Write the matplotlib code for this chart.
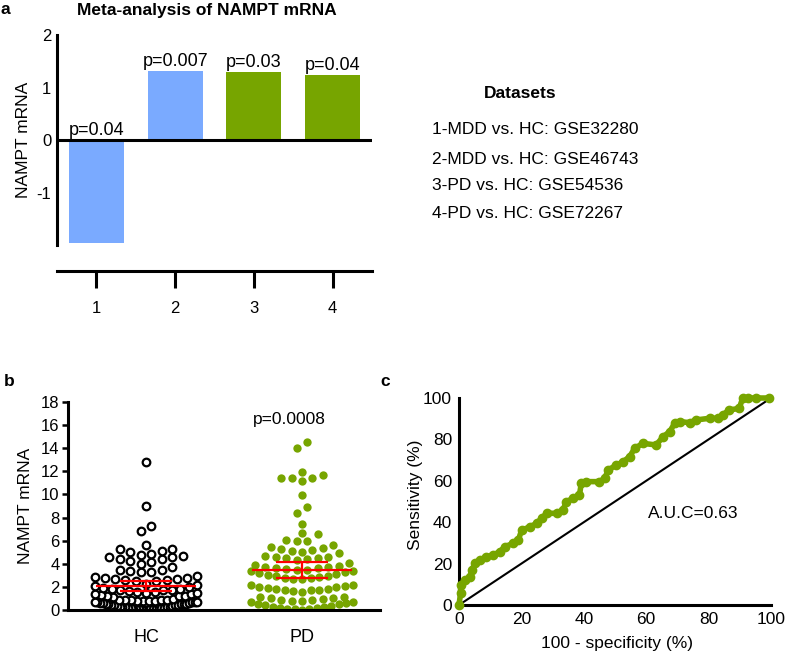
import numpy as np
import matplotlib
matplotlib.use("Agg")
import matplotlib.pyplot as plt

plt.rcParams['font.family'] = ['Liberation Sans', 'DejaVu Sans']
plt.rcParams['axes.unicode_minus'] = False

# panel a data
datasets = [1, 2, 3, 4]
nampt_fc = [-1.96, 1.31, 1.29, 1.24]
p_vals = ['p=0.04', 'p=0.007', 'p=0.03', 'p=0.04']
dataset_names = ['1-MDD vs. HC: GSE32280', '2-MDD vs. HC: GSE46743',
                 '3-PD vs. HC: GSE54536', '4-PD vs. HC: GSE72267']

# panel b data
hc_values = [12.8, 9.0, 7.25, 6.85,
             5.6, 5.3, 5.25, 5.1, 5.05, 4.85, 4.8, 4.65, 4.55, 4.55,
             4.45, 4.4, 4.25, 4.15, 4.0, 3.75, 3.5, 3.45, 3.4,
             3.3, 3.25, 2.95, 2.85, 2.8, 2.75, 2.7, 2.65, 2.6, 2.6, 2.55, 2.5,
             2.25, 2.2, 2.05, 1.95, 1.9, 1.85, 1.8, 1.75, 1.7, 1.7, 1.65, 1.6,
             1.55, 1.5, 1.45, 1.4, 1.35, 1.3, 1.25, 1.2, 1.2, 1.15,
             0.95, 0.9, 0.9, 0.85, 0.85, 0.85, 0.8, 0.8, 0.75, 0.75, 0.7, 0.7, 0.7,
             0.65, 0.65, 0.6, 0.6, 0.6, 0.55, 0.55, 0.5, 0.5, 0.5, 0.45, 0.45,
             0.4, 0.4, 0.35, 0.35, 0.3, 0.3, 0.3, 0.25, 0.25, 0.2, 0.2, 0.2,
             0.15, 0.15, 0.1, 0.1, 0.1, 0.05, 0.05, 0.05, 0.02, 0.0, 0.0]
pd_values = [14.5, 14.05,
             11.95, 11.7, 11.45, 11.4, 11.4, 11.15,
             9.95, 8.95, 8.4, 7.45,
             6.7, 6.55, 6.05, 6.0, 5.95,
             5.6, 5.45, 5.4, 5.3, 5.15, 5.1, 5.05, 4.9,
             4.65, 4.6, 4.55, 4.5, 4.5, 4.4, 4.3, 4.05,
             3.9, 3.85, 3.75, 3.7, 3.65, 3.6, 3.55, 3.5, 3.45, 3.4,
             3.35, 3.3, 3.2, 3.1, 3.0, 2.95, 2.9, 2.85, 2.8, 2.75, 2.7, 2.7,
             2.2, 2.15, 2.1, 2.0, 1.95, 1.9, 1.85, 1.8, 1.75, 1.7, 1.7, 1.65, 1.6,
             1.15, 1.1, 1.05, 1.0, 0.95, 0.9, 0.85, 0.8, 0.75, 0.7, 0.65, 0.6, 0.55, 0.5,
             0.4, 0.35, 0.3, 0.25, 0.2, 0.15, 0.1, 0.05, 0.05, 0.0]
groups = ['HC', 'PD']
group_mean = [2.07, 3.46]
group_err = [0.42, 0.66]

# panel c data (ROC)
roc_fpr = [0, 0.5, 0.5, 1.9, 3.5, 4.1, 5.1, 6.7, 8.8, 11, 13.1, 14.7, 17.4, 19, 20.1,
           22.8, 24.9, 26.5, 28.1, 31.3, 33.3, 34.4, 36.5, 38.6, 39.2, 40.8, 45,
           46.7, 47.8, 50.4, 52.6, 54.7, 56.3, 59, 63.2, 65.4, 67.5, 69.1, 70.7,
           73.9, 76, 80.3, 82.9, 84.5, 86.6, 89.8, 90.9, 92.5, 95.2, 99.5]
roc_tpr = [0, 5.6, 9.7, 12.1, 13.7, 16.9, 20.1, 21.7, 23.3, 24.2, 25.8, 28.2, 29.8,
           31.4, 36.2, 37.8, 39.5, 41.9, 44.3, 44.3, 45.9, 49.9, 51.5, 53.1, 58.8,
           59.6, 59.6, 61.2, 65.2, 67.6, 69.2, 71.7, 75.7, 78.1, 77.3, 81.3, 83.7,
           87.7, 88.6, 88.1, 89.4, 90.2, 90.2, 91.8, 94.2, 95, 99.8, 100, 100, 100]
auc_text = 'A.U.C=0.63'

blue = '#7aaaff'
green = '#77a500'
W, H = 787, 656


def box(l, t, r, b):
    return [l / W, 1 - b / H, (r - l) / W, (b - t) / H]


def dot_offsets(vals, row_h=0.75, step=0.067, half_w=0.33):
    # prism-like scatter: group into rows, spread each row from the centre out
    v = np.sort(np.asarray(vals, dtype=float))
    xs = np.zeros_like(v)
    i = 0
    while i < len(v):
        j = i
        while j < len(v) and v[j] < v[i] + row_h:
            j += 1
        n = j - i
        d = step if n <= 1 else min(step, 2 * half_w / (n - 1))
        pos = (np.arange(n) - (n - 1) / 2) * d
        xs[i:j] = pos[np.argsort(np.abs(pos), kind='stable')]
        i = j
    return v, xs


fig = plt.figure(figsize=(7.87, 6.56), dpi=100)

# ---------- panel a
ax = fig.add_axes(box(57, 35, 372, 245))
ax.bar(datasets, nampt_fc, width=0.7, color=[blue, blue, green, green], zorder=2)
ax.axhline(0, color='black', lw=2.2, zorder=3)
for xi, v, p in zip(datasets, nampt_fc, p_vals):
    ax.annotate(p, (xi, max(v, 0)), xytext=(0, 1), textcoords='offset points',
                ha='center', va='bottom', fontsize=13)
ax.set_xlim(0.5, 4.5)
ax.set_ylim(-2, 2)
ax.set_yticks([-1, 0, 1, 2])
ax.set_xticks(datasets)
ax.spines[['top', 'right']].set_visible(False)
ax.spines['left'].set_linewidth(2.2)
ax.spines['bottom'].set_linewidth(2.2)
ax.spines['bottom'].set_position(('outward', 19))
ax.tick_params(axis='y', length=0, pad=4, labelsize=12)
ax.tick_params(axis='x', length=12, width=2.2, pad=9, labelsize=12)
ax.set_ylabel('NAMPT mRNA', fontsize=12.5)
ax.yaxis.set_label_coords(-0.083, 0.5)
fig.text(207 / W, 1 - 10 / H, 'Meta-analysis of NAMPT mRNA', ha='center', va='center',
         fontsize=12.5, fontweight='bold')
fig.text(5 / W, 1 - 10 / H, 'a', ha='center', va='center', fontsize=12.5, fontweight='bold')

fig.text(520 / W, 1 - 94 / H, 'Datasets', ha='center', va='center', fontsize=12.5,
         fontweight='bold')
for yy, name in zip([130, 159, 185, 213], dataset_names):
    fig.text(432 / W, 1 - yy / H, name, ha='left', va='center', fontsize=12.5)

# ---------- panel b
bx = fig.add_axes(box(68, 402, 380, 610))
v, off = dot_offsets(hc_values)
bx.scatter(0 + off, v, s=30, facecolors='white', edgecolors='black', linewidths=1.6, zorder=2)
v, off = dot_offsets(pd_values)
bx.scatter(1 + off, v, s=36, color=green, linewidths=0, zorder=2)
for gi, (m, e) in enumerate(zip(group_mean, group_err)):
    bx.hlines(m, gi - 0.32, gi + 0.32, color='red', lw=1.6, zorder=3)
    bx.hlines([m - e, m + e], gi - 0.167, gi + 0.167, color='red', lw=1.6, zorder=3)
    bx.vlines(gi, m - e, m + e, color='red', lw=1.6, zorder=3)
bx.text(0.92, 16.5, 'p=0.0008', ha='center', va='center', fontsize=12.5)
bx.set_xlim(-0.5, 1.5)
bx.set_ylim(0, 18)
bx.set_yticks(range(0, 19, 2))
bx.set_xticks([0, 1])
bx.set_xticklabels(groups)
bx.spines[['top', 'right']].set_visible(False)
bx.spines['left'].set_linewidth(2.2)
bx.spines['bottom'].set_linewidth(2.2)
bx.tick_params(axis='y', length=4, width=1.8, pad=2, labelsize=12)
bx.tick_params(axis='x', length=0, pad=14, labelsize=13)
bx.set_ylabel('NAMPT mRNA', fontsize=12.5)
bx.yaxis.set_label_coords(-0.112, 0.5)
fig.text(9 / W, 1 - 382 / H, 'b', ha='center', va='center', fontsize=12.5, fontweight='bold')

# ---------- panel c
cx = fig.add_axes(box(459, 398, 771, 605))
cx.plot([0, 100], [0, 100], color='black', lw=1.5, zorder=2)
cx.plot(roc_fpr, roc_tpr, color=green, lw=4, marker='o', ms=6, mec=green, zorder=3,
        clip_on=False)
cx.text(75, 44, auc_text, ha='center', va='center', fontsize=12.5)
cx.set_xlim(0, 100)
cx.set_ylim(0, 100)
cx.set_xticks(range(0, 101, 20))
cx.set_yticks(range(0, 101, 20))
cx.spines[['top', 'right']].set_visible(False)
cx.spines['left'].set_linewidth(2.2)
cx.spines['bottom'].set_linewidth(2.2)
cx.tick_params(length=0, pad=5, labelsize=12.5)
cx.set_xlabel('100 - specificity (%)', fontsize=12.5)
cx.set_ylabel('Sensitivity (%)', fontsize=12.5)
cx.xaxis.set_label_coords(0.506, -0.15)
cx.yaxis.set_label_coords(-0.115, 0.53)
fig.text(385 / W, 1 - 382 / H, 'c', ha='center', va='center', fontsize=12.5, fontweight='bold')

fig.savefig('out.png', dpi=100)
